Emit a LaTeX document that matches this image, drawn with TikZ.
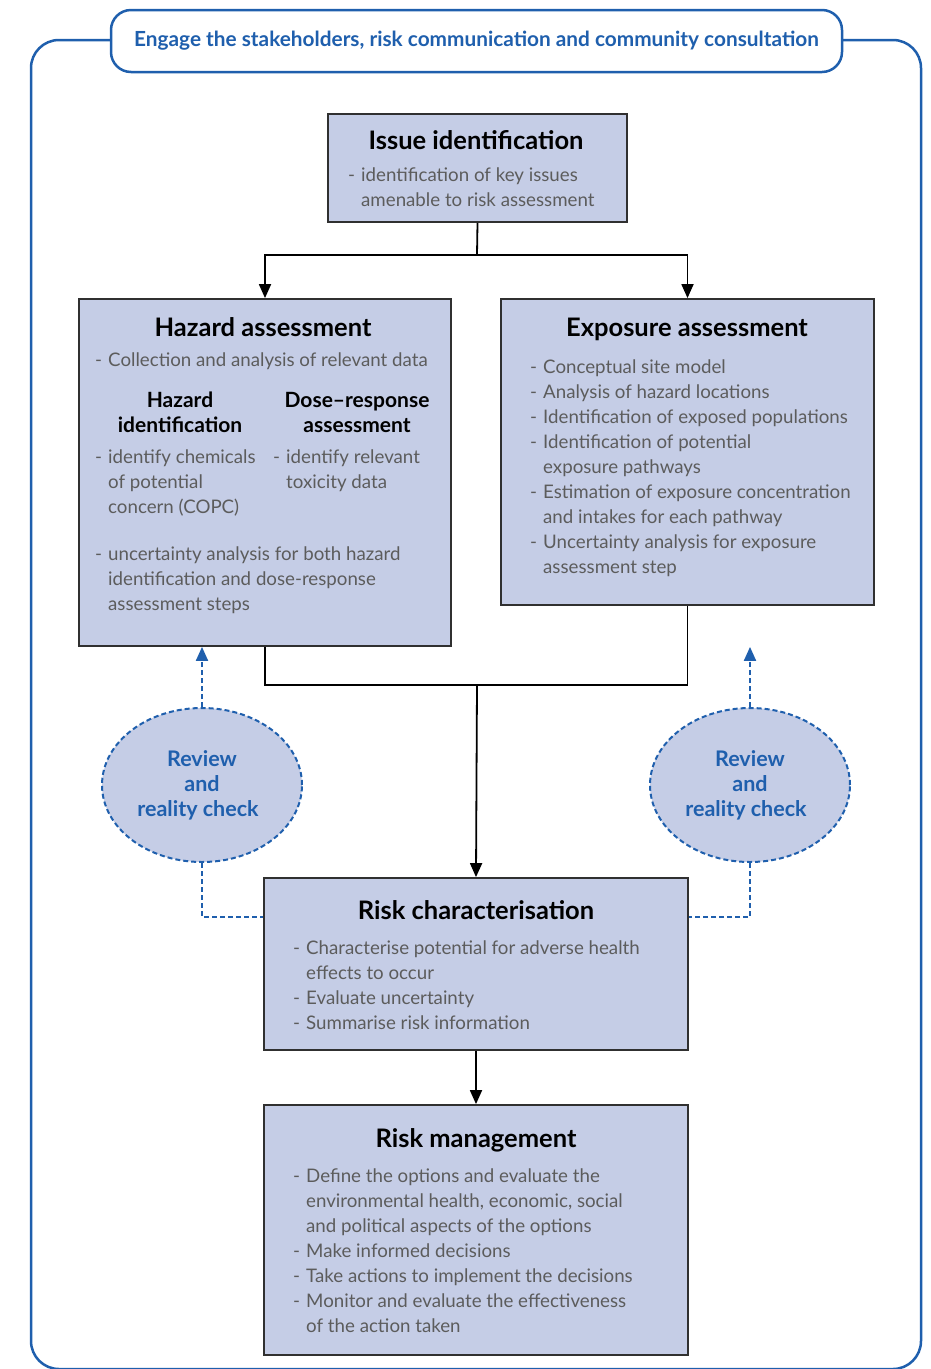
\documentclass[tikz,border=0pt]{standalone}
\usepackage{fontspec}
\setmainfont{Lato}
\usetikzlibrary{shapes.geometric,arrows.meta}
\definecolor{boxfill}{HTML}{C5CDE6}
\definecolor{frameblue}{HTML}{1F5FAD}
\definecolor{bodygray}{HTML}{5C5C5C}
\definecolor{edgegray}{HTML}{303030}
\newcommand\itm{\makebox[13pt][l]{-}}
\newcommand\cnt{\hspace*{13pt}}
\begin{document}
\begin{tikzpicture}[x=1pt,y=-1pt,
  stepbox/.style={draw=edgegray, line width=1.8pt, fill=boxfill, rectangle, inner sep=0pt},
  ttl/.style={font=\bfseries\fontsize{25.5}{28}\selectfont, text=black, inner sep=0pt, anchor=base},
  sub/.style={font=\bfseries\fontsize{21}{25}\selectfont, text=black, inner sep=0pt, align=center, anchor=north},
  lst/.style={font=\fontsize{18.7}{25}\selectfont, text=bodygray, align=left, anchor=north west, inner sep=0pt},
  conn/.style={draw=black, line width=1.8pt},
  arr/.style={conn, -{Triangle[width=12pt,length=14pt]}},
  dline/.style={draw=frameblue, line width=2pt, dash pattern=on 5pt off 3pt},
  darr/.style={dline, -{Triangle[width=12pt,length=14pt]}},
  rev/.style={ellipse, draw=frameblue, line width=2pt, dash pattern=on 5pt off 3pt, fill=boxfill,
    minimum width=200pt, minimum height=154pt, inner sep=0pt, align=center,
    font=\bfseries\fontsize{21.5}{25}\selectfont, text=frameblue},
]
\useasboundingbox (0,0) rectangle (931,1369);
% outer frame
\draw[frameblue, line width=2.5pt, rounded corners=28pt]
  (111,40) -- (31,40) -- (31,1369) -- (921,1369) -- (921,40) -- (842,40);
\node[draw=frameblue, line width=2.5pt, fill=white, rounded corners=20pt,
  minimum width=731pt, minimum height=62pt, inner sep=0pt,
  font=\bfseries\fontsize{20.8}{24}\selectfont, text=frameblue] (engage) at (476.5,41)
  {\raisebox{-2pt}{Engage the stakeholders, risk communication and community consultation}};

% boxes
\node[stepbox, minimum width=299pt, minimum height=108pt] (issue) at (477.5,168) {};
\node[stepbox, minimum width=372pt, minimum height=347pt] (hazard) at (265,472.5) {};
\node[stepbox, minimum width=373pt, minimum height=306pt] (expo) at (687.5,452) {};
\node[stepbox, minimum width=424pt, minimum height=172pt] (riskc) at (476,964) {};
\node[stepbox, minimum width=424pt, minimum height=250pt] (riskm) at (476,1230) {};

% issue text
\node[ttl] (issueT) at (476,149) {Issue identification};
\node[lst] (issueL) at (348,168) {\itm identification of key issues\\\cnt amenable to risk assessment};

% hazard text
\node[ttl] (hazT) at (263,336) {Hazard assessment};
\node[lst] (hazL1) at (95,353) {\itm Collection and analysis of relevant data};
\node[sub] (hazS1) at (180,392) {Hazard\\identification};
\node[sub] (hazS2) at (357,392) {Dose--response\\assessment};
\node[lst] (hazL2) at (95,450) {\itm identify chemicals\\\cnt of potential\\\cnt concern (COPC)};
\node[lst] (hazL3) at (273,450) {\itm identify relevant\\\cnt toxicity data};
\node[lst] (hazL4) at (95,547) {\itm uncertainty analysis for both hazard\\\cnt identification and dose-response\\\cnt assessment steps};

% exposure text
\node[ttl] (expT) at (687,336) {Exposure assessment};
\node[lst] (expL) at (530,360) {\itm Conceptual site model\\
\itm Analysis of hazard locations\\
\itm Identification of exposed populations\\
\itm Identification of potential\\
\cnt exposure pathways\\
\itm Estimation of exposure concentration\\
\cnt and intakes for each pathway\\
\itm Uncertainty analysis for exposure\\
\cnt assessment step};

% risk characterisation text
\node[ttl] (rcT) at (476,919) {Risk characterisation};
\node[lst] (rcL) at (293,941) {\itm Characterise potential for adverse health\\
\cnt effects to occur\\
\itm Evaluate uncertainty\\
\itm Summarise risk information};

% risk management text
\node[ttl] (rmT) at (476,1147) {Risk management};
\node[lst] (rmL) at (293,1169) {\itm Define the options and evaluate the\\
\cnt environmental health, economic, social\\
\cnt and political aspects of the options\\
\itm Make informed decisions\\
\itm Take actions to implement the decisions\\
\itm Monitor and evaluate the effectiveness\\
\cnt of the action taken};

% review ellipses
\node[rev] (revL) at (202,785) {Review\\and\\reality check\hspace*{8pt}};
\node[rev] (revR) at (750,785) {Review\\and\\reality check\hspace*{8pt}};

% connectors
\coordinate (split) at (477,255);
\draw[conn] (issue.south) -- (split);
\draw[arr] (split) -| (hazard.north);
\draw[arr] (split) -| (expo.north);
\coordinate (merge) at (477,685);
\draw[conn] (hazard.south) -- (hazard.south |- merge) -- (expo.south |- merge) -- (expo.south);
\draw[arr] (merge) -- (riskc.north);
\draw[arr] (riskc.south) -- (riskm.north);

% dashed review links
\coordinate (jl) at (0,917);
\draw[darr] (revL.north) -- (revL.north |- hazard.south);
\draw[darr] (revR.north) -- (revR.north |- hazard.south);
\draw[dline] (revL.south) -- (revL.south |- jl) -- (jl -| riskc.west);
\draw[dline] (revR.south) -- (revR.south |- jl) -- (jl -| riskc.east);
\end{tikzpicture}
\end{document}
